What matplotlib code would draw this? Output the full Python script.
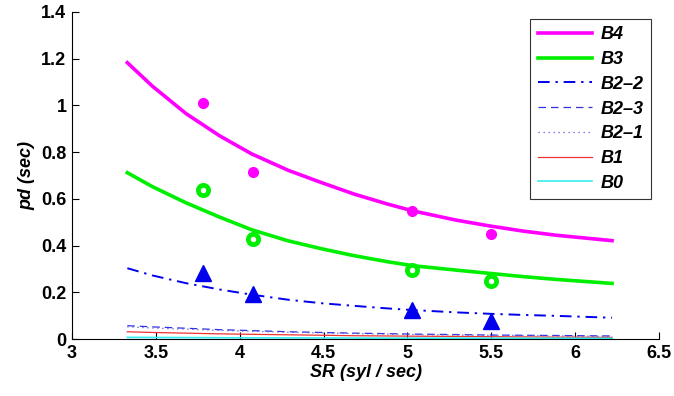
import matplotlib
matplotlib.use("Agg")
import matplotlib.pyplot as plt

plt.rcParams['font.family'] = ['Liberation Sans', 'DejaVu Sans']

# Fitted curves
x_curve = [3.33, 3.48, 3.68, 3.88, 4.07, 4.29, 4.49, 4.68, 4.88, 5.03, 5.29, 5.49, 5.69, 5.89, 6.22]
b4_curve = [1.183, 1.082, 0.965, 0.870, 0.793, 0.722, 0.669, 0.621, 0.578, 0.549, 0.509, 0.484, 0.462, 0.444, 0.421]
b3_curve = [0.712, 0.652, 0.583, 0.522, 0.468, 0.420, 0.386, 0.357, 0.331, 0.314, 0.295, 0.281, 0.267, 0.255, 0.238]
b22_curve = [0.303, 0.272, 0.239, 0.212, 0.190, 0.168, 0.153, 0.142, 0.131, 0.124, 0.114, 0.108, 0.103, 0.099, 0.091]
b23_curve = [0.057, 0.052, 0.046, 0.040, 0.036, 0.031, 0.028, 0.025, 0.023, 0.021, 0.019, 0.017, 0.016, 0.015, 0.013]
b21_curve = [0.052, 0.047, 0.042, 0.037, 0.033, 0.029, 0.026, 0.023, 0.021, 0.019, 0.017, 0.016, 0.015, 0.013, 0.011]
b1_curve = [0.031, 0.028, 0.025, 0.022, 0.020, 0.018, 0.016, 0.014, 0.013, 0.012, 0.011, 0.010, 0.009, 0.008, 0.007]
b0_curve = [0.007, 0.0065, 0.006, 0.0055, 0.005, 0.0047, 0.0044, 0.0041, 0.0038, 0.0036, 0.0034, 0.0032, 0.0031, 0.003, 0.003]

# Measured points
x_pts = [3.78, 4.08, 5.03, 5.50]
b4_pts = [1.012, 0.713, 0.549, 0.449]
b3_pts = [0.638, 0.430, 0.295, 0.248]
b22_pts = [0.282, 0.194, 0.126, 0.075]

x_ticks = [3, 3.5, 4, 4.5, 5, 5.5, 6, 6.5]
x_ticklabels = ['3', '3.5', '4', '4.5', '5', '5.5', '6', '6.5']
y_ticks = [0, 0.2, 0.4, 0.6, 0.8, 1.0, 1.2, 1.4]
y_ticklabels = ['0', '0.2', '0.4', '0.6', '0.8', '1', '1.2', '1.4']

fig = plt.figure(figsize=(6.74, 3.96), dpi=100)
ax = fig.add_axes([72/674, 57/396, (659-72)/674, (339-12)/396])

l4, = ax.plot(x_curve, b4_curve, color='#ff00ff', lw=2.6, label='B4', solid_joinstyle='round')
l3, = ax.plot(x_curve, b3_curve, color='#00ee00', lw=2.6, label='B3', solid_joinstyle='round')
l22, = ax.plot(x_curve, b22_curve, color='#0000ee', lw=1.4, dashes=[6, 3, 1.2, 3], label='B2–2')
l23, = ax.plot(x_curve, b23_curve, color='#3333dd', lw=0.9, dashes=[6, 4], label='B2–3')
l21, = ax.plot(x_curve, b21_curve, color='#5555ee', lw=0.9, dashes=[1, 3], label='B2–1')
l1, = ax.plot(x_curve, b1_curve, color='#ee3333', lw=0.9, label='B1')
l0, = ax.plot(x_curve, b0_curve, color='#33eeee', lw=1.2, label='B0')

ax.plot(x_pts, b4_pts, 'o', color='#ff00ff', ms=7, mec='#ff00ff', ls='none')
ax.plot(x_pts, b3_pts, 'o', mfc='white', mec='#00ee00', mew=3.4, ms=7.4, ls='none')
ax.plot(x_pts, b22_pts, '^', color='#0000ee', mec='#0000ee', ms=12, ls='none')

ax.set_xlim(3, 6.5)
ax.set_ylim(0, 1.4)
ax.set_xticks(x_ticks)
ax.set_xticklabels(x_ticklabels)
ax.set_yticks(y_ticks)
ax.set_yticklabels(y_ticklabels)
ax.tick_params(direction='in', length=5, width=0.8, labelsize=13, pad=4)
for lab in ax.get_xticklabels() + ax.get_yticklabels():
    lab.set_fontweight('bold')
ax.spines['top'].set_visible(False)
ax.spines['right'].set_visible(False)

ax.set_xlabel('SR (syl / sec)', fontsize=13, fontweight='bold', fontstyle='italic', labelpad=2)
ax.set_ylabel('pd (sec)', fontsize=13, fontweight='bold', fontstyle='italic', labelpad=4)

leg = fig.legend(handles=[l4, l3, l22, l23, l21, l1, l0], loc='upper right',
                 bbox_to_anchor=(651/674, (396 - 19)/396), bbox_transform=fig.transFigure,
                 prop={'weight': 'bold', 'style': 'italic', 'size': 13},
                 handlelength=3.0, handletextpad=0.5, labelspacing=0.43,
                 borderpad=0.4, borderaxespad=0.0, frameon=True, fancybox=False,
                 edgecolor='#333333', framealpha=1.0)
leg.get_frame().set_linewidth(0.8)

fig.savefig('out.png', dpi=100)
